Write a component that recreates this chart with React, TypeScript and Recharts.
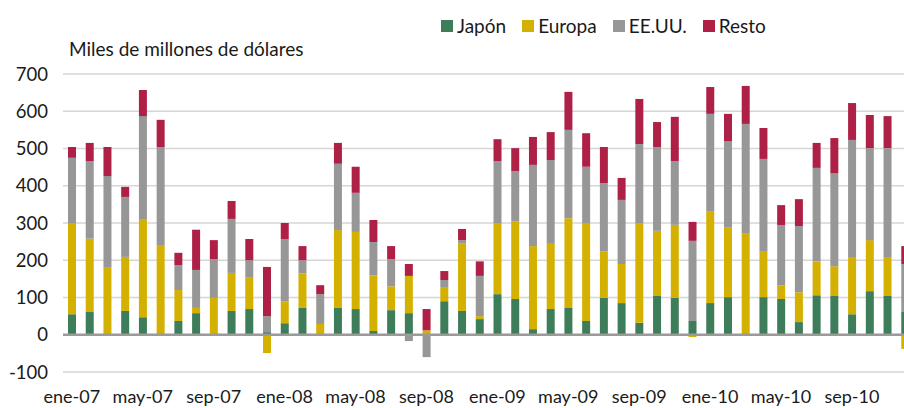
import React from 'react'
import { BarChart, Bar, XAxis, YAxis, CartesianGrid, ReferenceLine } from 'recharts'

const MESES = ['ene', 'feb', 'mar', 'abr', 'may', 'jun', 'jul', 'ago', 'sep', 'oct', 'nov', 'dic']
const ANIOS = ['07', '08', '09', '10']
const categorias = ANIOS.flatMap(a => MESES.map(m => `${m}-${a}`))

// miles de millones de dólares, por mes
const japon = [
  55, 61, 0, 64, 47, 0, 37, 58, 0, 64, 69, 7,
  31, 72, 0, 72, 69, 10, 66, 58, 0, 90, 64, 42,
  109, 96, 15, 69, 72, 37, 99, 85, 32, 104, 99, 37,
  85, 101, 0, 101, 96, 34, 106, 104, 55, 117, 104, 61,
]
const europa = [
  243, 197, 180, 145, 264, 241, 83, 14, 99, 102, 84, -49,
  59, 93, 29, 209, 207, 149, 64, 100, 12, 38, 182, 8,
  191, 209, 223, 175, 241, 263, 125, 105, 266, 175, 196, -6,
  245, 188, 271, 122, 37, 80, 91, 80, 154, 137, 105, -38,
]
const eeuu = [
  177, 208, 246, 161, 276, 263, 67, 102, 104, 145, 47, 43,
  167, 35, 80, 178, 105, 90, 73, -17, -60, 19, 8, 108,
  166, 134, 218, 225, 237, 151, 183, 172, 214, 225, 171, 215,
  263, 231, 295, 249, 161, 178, 251, 250, 314, 247, 292, 129,
]
const resto = [
  29, 49, 78, 27, 70, 73, 33, 108, 51, 48, 57, 132,
  43, 38, 24, 56, 70, 59, 35, 32, 57, 24, 30, 39,
  59, 62, 75, 75, 102, 90, 97, 59, 121, 67, 119, 51,
  72, 73, 102, 83, 54, 72, 67, 94, 99, 89, 86, 48,
]

const Y_TICKS = [-100, 0, 100, 200, 300, 400, 500, 600, 700]

const SERIES = [
  { key: 'japon', name: 'Japón', color: '#3d7d5a' },
  { key: 'europa', name: 'Europa', color: '#d4b000' },
  { key: 'eeuu', name: 'EE.UU.', color: '#979797' },
  { key: 'resto', name: 'Resto', color: '#ae2045' },
]

const data = categorias.map((mes, i) => ({
  mes,
  japon: japon[i],
  europa: europa[i],
  eeuu: eeuu[i],
  resto: resto[i],
}))

const FONT = 'Lato, "Open Sans", sans-serif'

function Leyenda() {
  return (
    <div style={{ position: 'absolute', left: 441, top: 17, display: 'flex', gap: 16, fontFamily: FONT, fontSize: 19, color: '#1a1a1a' }}>
      {SERIES.map(s => (
        <div key={s.key} style={{ display: 'flex', alignItems: 'center', gap: 4 }}>
          <span style={{ width: 12, height: 12, background: s.color, display: 'inline-block' }} />
          <span style={{ lineHeight: '18px' }}>{s.name}</span>
        </div>
      ))}
    </div>
  )
}

export default function App() {
  return (
    <div style={{ position: 'fixed', left: 0, top: 0, width: 904, height: 408, overflow: 'hidden', background: '#fff' }}>
      <Leyenda />
      <div style={{ position: 'absolute', left: 69, top: 40, fontFamily: FONT, fontSize: 19, lineHeight: '18px', color: '#1a1a1a' }}>
        Miles de millones de dólares
      </div>
      <BarChart
        width={914}
        height={408}
        data={data}
        stackOffset="sign"
        barSize={8}
        margin={{ top: 74, right: 0, bottom: 0, left: 0 }}
      >
        <CartesianGrid vertical={false} stroke="#d6d6d6" strokeWidth={1.5} />
        <XAxis
          dataKey="mes"
          interval={3}
          tickLine={false}
          axisLine={false}
          tickSize={0}
          tickMargin={18}
          height={36}
          tick={{ fill: '#1a1a1a', fontSize: 18, fontFamily: FONT }}
        />
        <YAxis
          domain={[-100, 700]}
          ticks={Y_TICKS}
          width={63}
          tickLine={false}
          axisLine={false}
          tickSize={0}
          tickMargin={15}
          tick={{ fill: '#1a1a1a', fontSize: 18.5, fontFamily: FONT }}
        />
        <ReferenceLine y={0} stroke="#9a9a9a" strokeWidth={2.5} />
        {SERIES.map(s => (
          <Bar key={s.key} dataKey={s.key} name={s.name} stackId="a" fill={s.color} isAnimationActive={false} />
        ))}
      </BarChart>
    </div>
  )
}
